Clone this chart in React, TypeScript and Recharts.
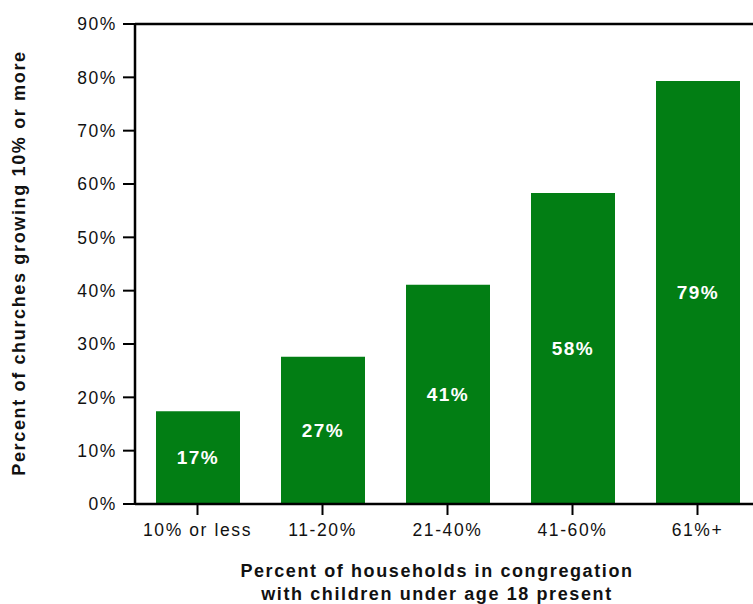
import React from "react";
import { BarChart, Bar, XAxis, YAxis, LabelList, Label, ReferenceLine } from "recharts";

const categories = ["10% or less", "11-20%", "21-40%", "41-60%", "61%+"];
const growingShare = [17.4, 27.6, 41.1, 58.3, 79.3];
const barLabels = ["17%", "27%", "41%", "58%", "79%"];
const yTicks = [0, 10, 20, 30, 40, 50, 60, 70, 80, 90];

const data = categories.map((name, i) => ({
  name,
  value: growingShare[i],
  label: barLabels[i],
}));

const FONT = "'Liberation Sans', Arial, Helvetica, sans-serif";
const GREEN = "#027e14";

function XTitle() {
  return (
    <g>
      <text x={437} y={577} textAnchor="middle" fontFamily={FONT} fontSize={18} fontWeight="bold" letterSpacing={1.6} fill="#111">
        Percent of households in congregation
      </text>
      <text x={437} y={600} textAnchor="middle" fontFamily={FONT} fontSize={18} fontWeight="bold" letterSpacing={1.6} fill="#111">
        with children under age 18 present
      </text>
    </g>
  );
}

function YTitle() {
  return (
    <text
      x={25}
      y={263}
      transform="rotate(-90 25 263)"
      textAnchor="middle"
      fontFamily={FONT}
      fontSize={18}
      fontWeight="bold"
      letterSpacing={1.65}
      fill="#111"
    >
      Percent of churches growing 10% or more
    </text>
  );
}

export default function App() {
  return (
    <div style={{ position: "fixed", left: 0, top: 0, width: 753, height: 604, overflow: "hidden", background: "#fff" }}>
      <BarChart width={780} height={604} data={data} margin={{ top: 24, right: 20, bottom: 0, left: 0 }}>
        <XAxis
          dataKey="name"
          height={100}
          axisLine={{ stroke: "#000", strokeWidth: 2.5 }}
          tickLine={{ stroke: "#000", strokeWidth: 2 }}
          tickSize={11}
          tickMargin={9}
          tick={{ fill: "#111", fontSize: 17.5, fontFamily: FONT, letterSpacing: 1.6 }}
        >
          <Label content={() => <XTitle />} />
        </XAxis>
        <YAxis
          width={135}
          domain={[0, 90]}
          ticks={yTicks}
          interval={0}
          tickFormatter={(v: number) => `${v}%`}
          axisLine={{ stroke: "#000", strokeWidth: 2.5 }}
          tickLine={{ stroke: "#000", strokeWidth: 2 }}
          tickSize={12}
          tickMargin={6}
          tick={{ fill: "#111", fontSize: 17.5, fontFamily: FONT, letterSpacing: 1.6 }}
        >
          <Label content={() => <YTitle />} />
        </YAxis>
        <ReferenceLine y={90} stroke="#000" strokeWidth={2.5} />
        <Bar dataKey="value" fill={GREEN} barSize={84} isAnimationActive={false}>
          <LabelList
            dataKey="label"
            position="center"
            fill="#fff"
            fontFamily={FONT}
            fontSize={19}
            fontWeight="bold"
            letterSpacing={1.5}
          />
        </Bar>
      </BarChart>
    </div>
  );
}
